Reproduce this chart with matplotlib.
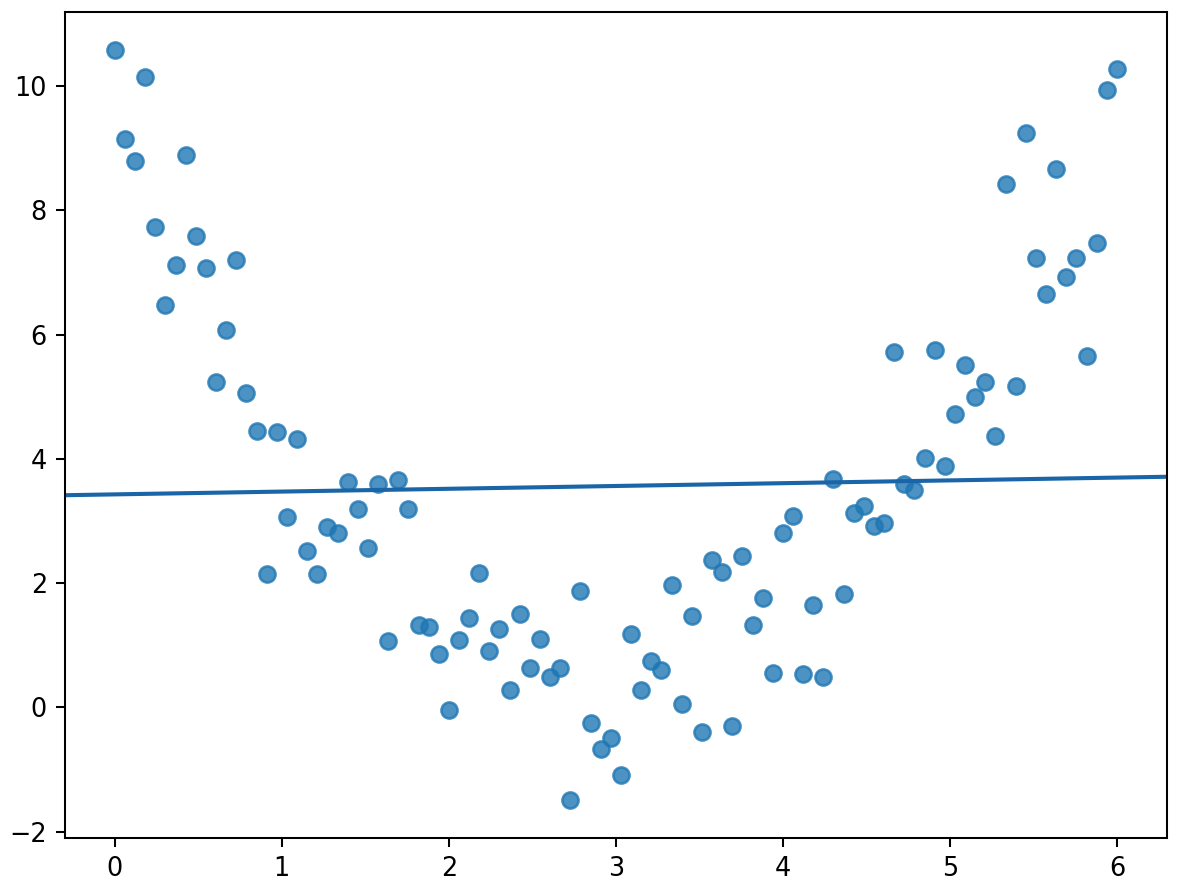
import numpy as np
import matplotlib
matplotlib.use("Agg")
import matplotlib.pyplot as plt
import seaborn as sns

x = np.linspace(0, 6, 100)
y = [10.58, 9.15, 8.79, 10.14, 7.73, 6.48, 7.12, 8.89, 7.59, 7.07,
     5.23, 6.08, 7.2, 5.06, 4.45, 2.15, 4.43, 3.07, 4.32, 2.52,
     2.15, 2.9, 2.8, 3.63, 3.2, 2.56, 3.6, 1.07, 3.66, 3.2,
     1.33, 1.29, 0.86, -0.04, 1.08, 1.43, 2.16, 0.9, 1.26, 0.28,
     1.5, 0.64, 1.1, 0.48, 0.64, -1.5, 1.87, -0.26, -0.67, -0.5,
     -1.09, 1.18, 0.28, 0.74, 0.6, 1.97, 0.06, 1.47, -0.4, 2.37,
     2.18, -0.3, 2.44, 1.33, 1.76, 0.56, 2.8, 3.08, 0.53, 1.65,
     0.49, 3.67, 1.82, 3.12, 3.24, 2.92, 2.96, 5.72, 3.6, 3.5,
     4.02, 5.75, 3.88, 4.72, 5.51, 5.0, 5.23, 4.36, 8.42, 5.18,
     9.24, 7.23, 6.66, 8.66, 6.92, 7.24, 5.65, 7.48, 9.93, 10.28]

fig, ax = plt.subplots(figsize=(6.4, 4.87), dpi=184)
fig.subplots_adjust(left=0.055, right=0.991, top=0.987, bottom=0.065)
sns.regplot(x=x, y=np.array(y), ax=ax, truncate=False, ci=None,
            scatter_kws={"s": 40}, line_kws={"linewidth": 1.6, "color": "#1a65a8"})
ax.set_xlim(-0.3, 6.3)
ax.set_ylim(-2.1, 11.2)
fig.savefig("out.png", dpi=184)
